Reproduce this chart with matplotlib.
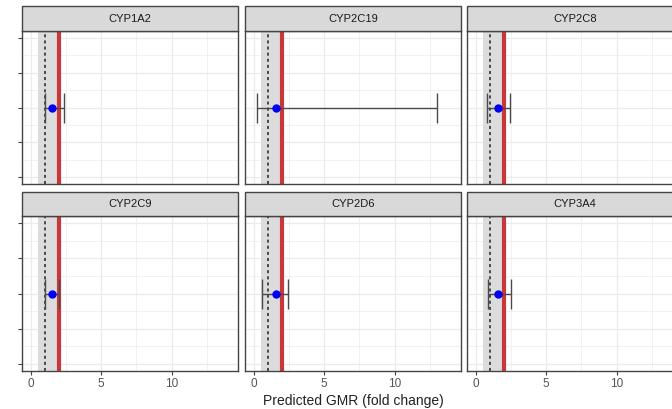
import numpy as np
import matplotlib
matplotlib.use('agg')
from matplotlib import pyplot as plt
from matplotlib.patches import Rectangle

plt.rcParams["font.family"] = ["Liberation Sans", "DejaVu Sans"]

# predicted GMR (fold change) with 90% interval, one panel per enzyme
enzymes = ['CYP1A2', 'CYP2C19', 'CYP2C8', 'CYP2C9', 'CYP2D6', 'CYP3A4']
gmr = [1.51, 1.6, 1.58, 1.51, 1.6, 1.58]
ci_low = [1.0, 0.2, 0.82, 1.0, 0.56, 0.9]
ci_high = [2.36, 13.0, 2.43, 1.98, 2.4, 2.48]
y_pos = [3, 3, 3, 3, 3, 3]

band = (0.5, 2.0)      # shaded no-effect region
ref_line = 1.0         # dotted line
cut_line = 2.0         # red line

W, H = 672, 409
fig = plt.figure(figsize=(W / 100, H / 100), dpi=100)

col_left = [22, 245, 467]
pan_w = 216
rows = [(31, 184, 6), (216, 371, 192)]  # panel top, panel bottom, strip top

grid_c = '#ebebeb'
frame_c = '#444444'

for i, name in enumerate(enzymes):
    r, c = divmod(i, 3)
    top, bot, stop = rows[r]
    ax = fig.add_axes([col_left[c] / W, 1 - bot / H, pan_w / W, (bot - top) / H])
    ax.set_xlim(-0.62, 14.7)
    ax.set_ylim(0.8, 5.2)
    ax.set_xticks([0, 5, 10])
    ax.set_xticks([2.5, 7.5, 12.5], minor=True)
    ax.set_yticks([1, 2, 3, 4, 5])
    ax.set_yticks([1.5, 2.5, 3.5, 4.5], minor=True)
    ax.grid(which='major', color=grid_c, lw=0.9, zorder=0)
    ax.grid(which='minor', color=grid_c, lw=0.5, zorder=0)
    ax.set_axisbelow(True)

    ax.axvspan(band[0], band[1], color='#dcdcdc', lw=0, zorder=1)
    ax.axvline(ref_line, color='#222222', lw=1.1, ls=(0, (2, 2)), zorder=2)
    ax.axvline(cut_line, color='#c8383a', lw=3.0, zorder=2)

    ax.errorbar([gmr[i]], [y_pos[i]],
                xerr=[[gmr[i] - ci_low[i]], [ci_high[i] - gmr[i]]],
                fmt='none', ecolor='#4a4a4a', elinewidth=1.0, capsize=11,
                capthick=1.0, zorder=3)
    ax.plot([gmr[i]], [y_pos[i]], 'o', color='#0000ee', ms=5, zorder=4)

    for s in ax.spines.values():
        s.set_color(frame_c)
        s.set_linewidth(1.0)

    ax.tick_params(axis='y', left=(c == 0), labelleft=False, length=3,
                   color=frame_c, width=0.8)
    ax.tick_params(axis='both', which='minor', length=0)
    if r == 1:
        ax.tick_params(axis='x', bottom=True, labelbottom=True, length=3,
                       color=frame_c, width=0.8, labelsize=8.5,
                       labelcolor='#555555', pad=2)
    else:
        ax.tick_params(axis='x', bottom=False, labelbottom=False)

    sh = (top - stop) / (bot - top)
    ax.add_patch(Rectangle((0, 1), 1, sh, transform=ax.transAxes,
                           facecolor='#d9d9d9', edgecolor=frame_c, lw=1.0,
                           clip_on=False, zorder=5))
    ax.text(0.5, 1 + sh / 2, name, transform=ax.transAxes, ha='center',
            va='center', fontsize=8, color='#1a1a1a', zorder=6)

fig.text((245 + pan_w / 2) / W, 1 - 401 / H, 'Predicted GMR (fold change)',
         ha='center', va='center', fontsize=10, color='#222222')

plt.savefig('out.png', dpi=100)
plt.close()
